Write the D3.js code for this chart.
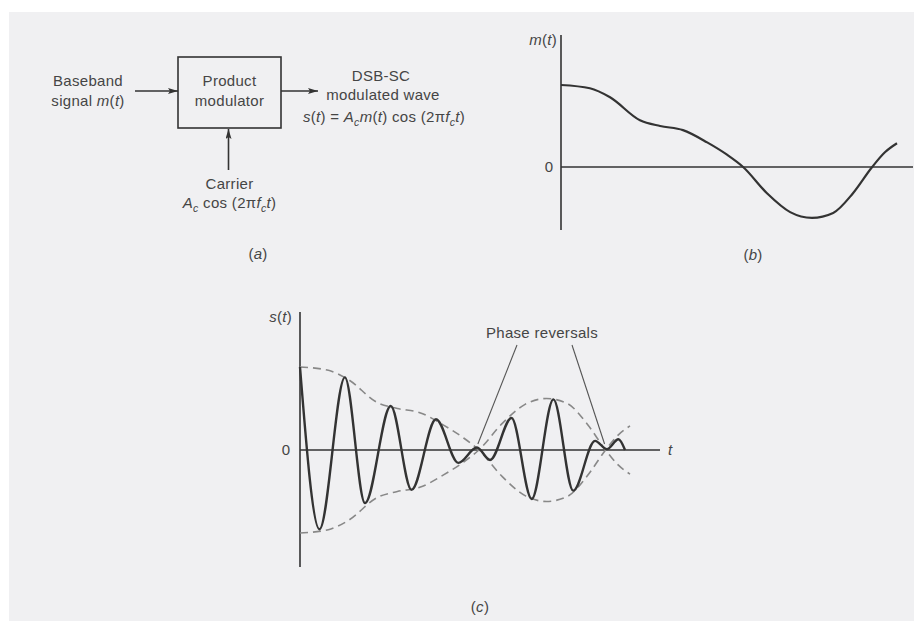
<!DOCTYPE html>
<html>
<head>
<meta charset="utf-8">
<script src="https://cdn.jsdelivr.net/npm/d3@7"></script>
<style>
  body { margin: 0; background: #fff; }
  svg text { font-family: "Liberation Sans", Arial, sans-serif; fill: #454545; letter-spacing: 0.3px; }
</style>
</head>
<body>
<div id="chart"></div>
<script>

// m(t): t from 0 to 1, value 1 = start level
var mT = [0, 0.086, 0.146, 0.235, 0.295, 0.363, 0.435, 0.494, 0.542, 0.613, 0.682, 0.747, 0.810, 0.869, 0.926, 0.964, 1.0],
    mV = [1.0, 0.96, 0.85, 0.57, 0.50, 0.45, 0.30, 0.15, 0, -0.32, -0.55, -0.62, -0.56, -0.32, 0, 0.18, 0.29];

// s(t) in panel (c): peaks and troughs
var sT = [0, 0.059, 0.136, 0.197, 0.275, 0.338, 0.412, 0.480, 0.536, 0.576, 0.641, 0.702, 0.768, 0.828, 0.894, 0.930, 0.965, 0.985],
    sV = [1.0, -0.955, 0.875, -0.64, 0.53, -0.48, 0.37, -0.155, 0.03, -0.12, 0.385, -0.59, 0.61, -0.49, 0.11, 0.01, 0.13, 0];

// where the envelope crosses zero (phase reversals)
var reversalT = [0.542, 0.926];

var mData = mT.map((t, i) => ({ t: t, v: mV[i] })),
    sData = sT.map((t, i) => ({ t: t, v: sV[i] }));

var width = 914, height = 621;

var svg = d3.select('#chart').append('svg')
    .attr('width', width)
    .attr('height', height);

svg.append('rect')
    .attr('x', 9).attr('y', 12)
    .attr('width', width - 9).attr('height', height - 12)
    .attr('fill', '#f0f0f2');

var defs = svg.append('defs');
defs.append('marker')
    .attr('id', 'arrow')
    .attr('viewBox', '0 0 10 6')
    .attr('refX', 10).attr('refY', 3)
    .attr('markerWidth', 10).attr('markerHeight', 6)
    .attr('markerUnits', 'userSpaceOnUse')
    .attr('orient', 'auto')
  .append('path')
    .attr('d', 'M0,0 L10,3 L0,6 L2,3 Z')
    .attr('fill', '#333');

var ink = '#333';

// ---------- (a) block diagram ----------
var a = svg.append('g').attr('class', 'panel-a');

var box = { x: 178, y: 57, w: 103, h: 71 };

a.append('rect')
    .attr('x', box.x).attr('y', box.y)
    .attr('width', box.w).attr('height', box.h)
    .attr('fill', 'none')
    .attr('stroke', ink)
    .attr('stroke-width', 1.6);

var midY = box.y + box.h / 2 - 1.5,
    midX = box.x + box.w / 2;

var arrows = [
  [135, midY, box.x, midY],
  [box.x + box.w, midY, 318, midY],
  [midX - 1, 170, midX - 1, box.y + box.h + 1]
];

a.selectAll('line.arr').data(arrows).enter()
  .append('line')
    .attr('x1', d => d[0]).attr('y1', d => d[1])
    .attr('x2', d => d[2]).attr('y2', d => d[3])
    .attr('stroke', ink)
    .attr('stroke-width', 1.6)
    .attr('marker-end', 'url(#arrow)');

function addText(g, x, y, anchor, parts) {
  var t = g.append('text')
      .attr('x', x).attr('y', y)
      .attr('font-size', 15)
      .style('text-anchor', anchor);
  parts.forEach(p => {
    var s = t.append('tspan').text(p.s);
    if (p.i) s.attr('font-style', 'italic');
    if (p.sub) s.attr('font-size', 10.5).attr('dy', 4);
    if (p.up) s.attr('dy', -4);
  });
  return t;
}

addText(a, 88, 86, 'middle', [{ s: 'Baseband' }]);
addText(a, 88, 106, 'middle', [{ s: 'signal ' }, { s: 'm', i: 1 }, { s: '(' }, { s: 't', i: 1 }, { s: ')' }]);
addText(a, midX, 86, 'middle', [{ s: 'Product' }]);
addText(a, midX, 106, 'middle', [{ s: 'modulator' }]);
addText(a, 381, 81, 'middle', [{ s: 'DSB-SC' }]);
addText(a, 383, 100, 'middle', [{ s: 'modulated wave' }]);
addText(a, 384, 122, 'middle', [
  { s: 's', i: 1 }, { s: '(' }, { s: 't', i: 1 }, { s: ') = ' },
  { s: 'A', i: 1 }, { s: 'c', i: 1, sub: 1 }, { s: 'm', i: 1, up: 1 }, { s: '(' }, { s: 't', i: 1 }, { s: ') cos (2π' },
  { s: 'f', i: 1 }, { s: 'c', i: 1, sub: 1 }, { s: 't', i: 1, up: 1 }, { s: ')' }
]);
addText(a, midX, 189, 'middle', [{ s: 'Carrier' }]);
addText(a, midX, 208, 'middle', [
  { s: 'A', i: 1 }, { s: 'c', i: 1, sub: 1 }, { s: ' cos (2π', up: 1 },
  { s: 'f', i: 1 }, { s: 'c', i: 1, sub: 1 }, { s: 't', i: 1, up: 1 }, { s: ')' }
]);
addText(a, 258, 259, 'middle', [{ s: '(' }, { s: 'a', i: 1 }, { s: ')' }]);

// ---------- (b) message signal ----------
var xB = d3.scaleLinear().domain([0, 1]).range([561, 897]),
    yB = d3.scaleLinear().domain([0, 1]).range([167, 85]);

var b = svg.append('g').attr('class', 'panel-b');

b.append('line')
    .attr('x1', xB(0)).attr('x2', xB(0))
    .attr('y1', 35).attr('y2', 230)
    .attr('stroke', ink).attr('stroke-width', 1.6);
b.append('line')
    .attr('x1', xB(0)).attr('x2', 913)
    .attr('y1', yB(0)).attr('y2', yB(0))
    .attr('stroke', ink).attr('stroke-width', 1.6);

var lineB = d3.line()
    .x(d => xB(d.t))
    .y(d => yB(d.v))
    .curve(d3.curveMonotoneX);

b.append('path')
    .datum(mData)
    .attr('d', lineB)
    .attr('fill', 'none')
    .attr('stroke', ink)
    .attr('stroke-width', 2.2);

addText(b, 557, 45, 'end', [{ s: 'm', i: 1 }, { s: '(' }, { s: 't', i: 1 }, { s: ')' }]);
addText(b, 549, yB(0) + 5, 'middle', [{ s: '0' }]);
addText(b, 753, 260, 'middle', [{ s: '(' }, { s: 'b', i: 1 }, { s: ')' }]);

// ---------- (c) DSB-SC wave ----------
var xC = d3.scaleLinear().domain([0, 1]).range([300, 630]),
    yC = d3.scaleLinear().domain([0, 1]).range([450, 367]);

var c = svg.append('g').attr('class', 'panel-c');

c.append('line')
    .attr('x1', xC(0)).attr('x2', xC(0))
    .attr('y1', 312).attr('y2', 567)
    .attr('stroke', ink).attr('stroke-width', 1.6);
c.append('line')
    .attr('x1', xC(0)).attr('x2', 660)
    .attr('y1', yC(0)).attr('y2', yC(0))
    .attr('stroke', ink).attr('stroke-width', 1.6);

var envUp = d3.line()
    .x(d => xC(d.t))
    .y(d => yC(d.v))
    .curve(d3.curveMonotoneX);
var envDown = d3.line()
    .x(d => xC(d.t))
    .y(d => yC(-d.v))
    .curve(d3.curveMonotoneX);

c.selectAll('path.env')
    .data([envUp, envDown]).enter()
  .append('path')
    .attr('class', 'env')
    .attr('d', f => f(mData))
    .attr('fill', 'none')
    .attr('stroke', '#888')
    .attr('stroke-width', 1.6)
    .attr('stroke-dasharray', '8,5');

var lineC = d3.line()
    .x(d => xC(d.t))
    .y(d => yC(d.v))
    .curve(d3.curveMonotoneX);

c.append('path')
    .datum(sData)
    .attr('d', lineC)
    .attr('fill', 'none')
    .attr('stroke', ink)
    .attr('stroke-width', 2.4);

// phase reversal callouts
var calloutStart = [[517, 345], [572, 345]];
c.selectAll('line.callout')
    .data(reversalT).enter()
  .append('line')
    .attr('x1', (d, i) => calloutStart[i][0])
    .attr('y1', (d, i) => calloutStart[i][1])
    .attr('x2', d => xC(d) - 1)
    .attr('y2', yC(0) - 6)
    .attr('stroke', '#555')
    .attr('stroke-width', 1.1);

addText(c, 542, 338, 'middle', [{ s: 'Phase reversals' }]);
addText(c, 292, 322, 'end', [{ s: 's', i: 1 }, { s: '(' }, { s: 't', i: 1 }, { s: ')' }]);
addText(c, 286, yC(0) + 5, 'middle', [{ s: '0' }]);
addText(c, 668, yC(0) + 5, 'start', [{ s: 't', i: 1 }]);
addText(c, 480, 612, 'middle', [{ s: '(' }, { s: 'c', i: 1 }, { s: ')' }]);

</script>
</body>
</html>
